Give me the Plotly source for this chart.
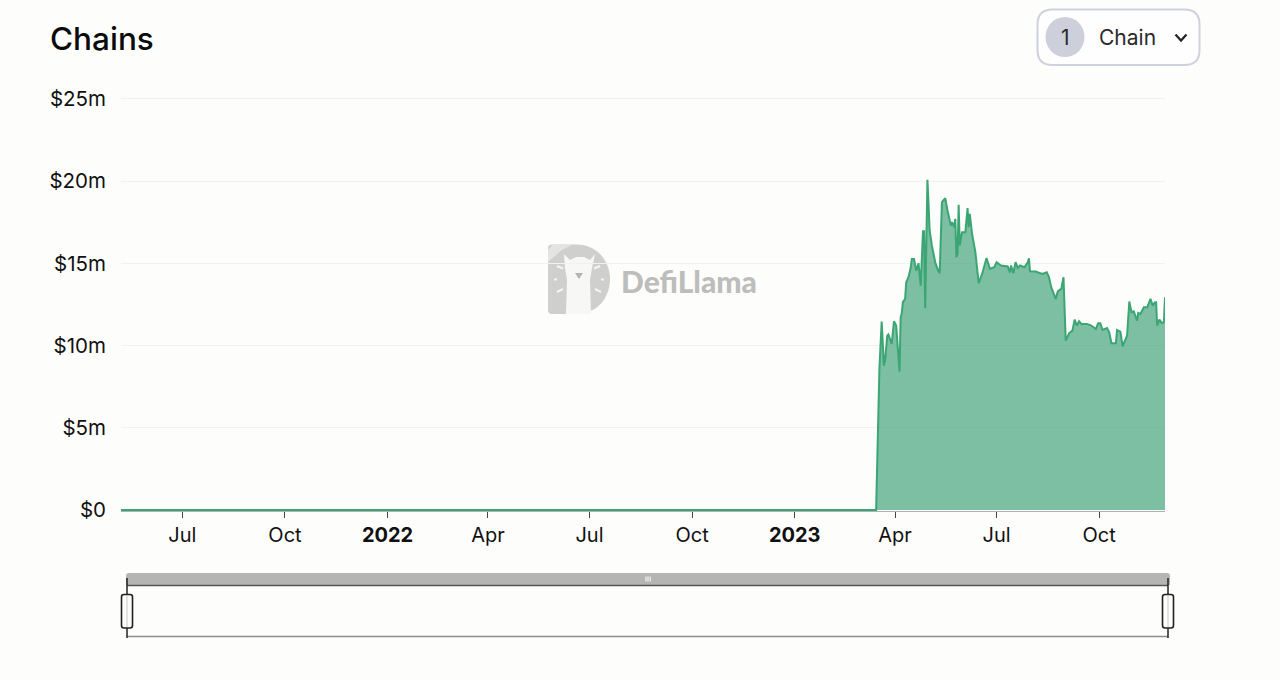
import plotly.graph_objects as go

# ---- data ----
dates = ["2021-05-07","2023-03-15","2023-03-18","2023-03-20","2023-03-22","2023-03-23","2023-03-25","2023-03-26","2023-03-29","2023-03-31",
"2023-04-02","2023-04-03","2023-04-05","2023-04-06","2023-04-07","2023-04-08","2023-04-10","2023-04-11","2023-04-13","2023-04-15",
"2023-04-16","2023-04-18","2023-04-20","2023-04-22","2023-04-24","2023-04-26","2023-04-27","2023-04-28","2023-04-30","2023-05-01",
"2023-05-02","2023-05-04","2023-05-07","2023-05-09","2023-05-11","2023-05-13","2023-05-16","2023-05-18","2023-05-20","2023-05-21",
"2023-05-22","2023-05-24","2023-05-25","2023-05-26","2023-05-27","2023-05-28","2023-05-29","2023-05-30","2023-05-31","2023-06-03",
"2023-06-05","2023-06-06","2023-06-07","2023-06-09","2023-06-12","2023-06-15","2023-06-18","2023-06-22","2023-06-25","2023-06-29",
"2023-07-01","2023-07-05","2023-07-11","2023-07-13","2023-07-14","2023-07-16","2023-07-18","2023-07-20","2023-07-22","2023-07-26",
"2023-07-29","2023-07-30","2023-07-31","2023-08-05","2023-08-11","2023-08-15","2023-08-17","2023-08-19","2023-08-23","2023-08-25",
"2023-08-28","2023-08-30","2023-09-01","2023-09-04","2023-09-07","2023-09-09","2023-09-11","2023-09-13","2023-09-15","2023-09-20",
"2023-09-24","2023-09-28","2023-09-30","2023-10-02","2023-10-04","2023-10-08","2023-10-10","2023-10-12","2023-10-16","2023-10-17",
"2023-10-20","2023-10-22","2023-10-25","2023-10-26","2023-10-28","2023-10-30","2023-11-01","2023-11-04","2023-11-05","2023-11-07",
"2023-11-10","2023-11-13","2023-11-16","2023-11-18","2023-11-20","2023-11-21","2023-11-22","2023-11-24","2023-11-26","2023-11-28","2023-11-29"]
tvl_millions = [0,0,8.68,11.46,8.78,9.09,10.61,10.67,10.10,11.48,
11.22,10.10,8.42,11.72,11.97,12.64,12.84,13.85,14.16,14.73,
15.27,15.27,14.56,15.01,13.65,16.96,16.96,12.27,20.08,18.62,
17.0,16.09,15.07,14.67,14.40,18.72,18.97,18.22,17.51,17.30,
17.51,17.20,17.71,15.38,15.58,18.56,16.09,16.69,16.90,16.90,
18.36,17.20,18.01,16.80,15.68,13.79,14.36,15.33,14.67,14.77,
15.07,14.87,14.81,14.46,14.87,14.40,15.07,14.73,14.87,14.77,
15.07,15.31,14.52,14.50,14.36,14.46,14.16,13.55,12.84,13.31,
13.45,14.16,10.30,10.75,10.91,11.58,11.22,11.48,11.32,11.32,
11.22,11.01,11.36,11.36,10.95,11.07,10.81,10.14,10.14,10.95,
10.85,9.96,10.55,10.61,12.68,12.03,12.09,11.52,11.99,11.93,
12.33,12.33,12.84,12.43,12.64,12.64,11.22,11.58,11.38,11.42,12.94]

x_tick_dates = ["2021-07-01","2021-10-01","2022-01-01","2022-04-01","2022-07-01","2022-10-01","2023-01-01","2023-04-01","2023-07-01","2023-10-01"]
x_tick_labels = ["Jul","Oct","<b>2022</b>","Apr","Jul","Oct","<b>2023</b>","Apr","Jul","Oct"]
y_tick_values = [0,5,10,15,20,25]
y_tick_labels = ["$0","$5m","$10m","$15m","$20m","$25m"]
title_text = "Chains"
selector_count = "1"
selector_label = "Chain"
watermark_text = "DefiLlama"

# ---- page geometry ----
W, H = 1280, 680
L, R, T, B = 121, 1165, 97, 511
FONT = "Inter"
BG = "#fdfdfb"
LINE = "#3ba574"
FILL = "rgba(58,160,116,0.66)"

def px(x): return (x - L) / (R - L)
def py(y): return (B - y) / (B - T)

def poly(points, close=True):
    s = "M " + " L ".join(f"{px(x):.5f},{py(y):.5f}" for x, y in points)
    return s + (" Z" if close else "")

def rrect(x0, y0, x1, y1, r):
    rx, ry = r / (R - L), r / (B - T)
    a, b, c, d = px(x0), px(x1), py(y0), py(y1)
    return (f"M {a+rx:.5f},{c:.5f} L {b-rx:.5f},{c:.5f} Q {b:.5f},{c:.5f} {b:.5f},{c-ry:.5f} "
            f"L {b:.5f},{d+ry:.5f} Q {b:.5f},{d:.5f} {b-rx:.5f},{d:.5f} L {a+rx:.5f},{d:.5f} "
            f"Q {a:.5f},{d:.5f} {a:.5f},{d+ry:.5f} L {a:.5f},{c-ry:.5f} Q {a:.5f},{c:.5f} {a+rx:.5f},{c:.5f} Z")

def path(d, fill="rgba(0,0,0,0)", line=None, w=1, layer="above"):
    return dict(type="path", xref="paper", yref="paper", path=d, fillcolor=fill,
                line=dict(color=line or "rgba(0,0,0,0)", width=w if line else 0), layer=layer)

def seg(x0, y0, x1, y1, color, w=1):
    return dict(type="line", xref="paper", yref="paper", x0=px(x0), y0=py(y0), x1=px(x1), y1=py(y1),
                line=dict(color=color, width=w))

shapes = []
# selector box
shapes.append(path(rrect(1037.5, 9.5, 1199.5, 65, 15), fill="#fefefe", line="#d0d1de", w=2))
shapes.append(dict(type="circle", xref="paper", yref="paper", x0=px(1045.5), x1=px(1084.5), y0=py(17), y1=py(57),
                   fillcolor="#cdcfdb", line=dict(width=0)))
shapes.append(path(poly([(1175.5, 34.5), (1181, 40.5), (1186.5, 34.5)], close=False), line="#222222", w=2.2))

# data zoom slider
shapes.append(path(f"M {px(126):.5f},{py(585):.5f} L {px(126):.5f},{py(576):.5f} Q {px(126):.5f},{py(573):.5f} {px(129):.5f},{py(573):.5f} "
                   f"L {px(1167):.5f},{py(573):.5f} Q {px(1170):.5f},{py(573):.5f} {px(1170):.5f},{py(576):.5f} L {px(1170):.5f},{py(585):.5f} Z",
                   fill="#b5b5b3"))
shapes.append(seg(127, 585.5, 1168, 585.5, "#555555", 1.5))
shapes.append(seg(127, 636.5, 1168, 636.5, "#8f8f8f", 1.5))
for bx in (646, 648, 650.2):
    shapes.append(seg(bx, 576.5, bx, 581.5, "#ffffff", 1))
for cx in (127, 1168):
    shapes.append(seg(cx, 578, cx, 638, "#222222", 1.5))
    shapes.append(path(rrect(cx - 5.5, 594.5, cx + 5.5, 628, 2.5), fill="#fdfdfb", line="#222222", w=1.6))
    shapes.append(seg(cx, 596, cx, 627, "#c9c9c9", 1))

# watermark
D = (f"M {px(552):.5f},{py(244.5):.5f} L {px(576):.5f},{py(244.5):.5f} "
     f"C {px(598):.5f},{py(244.5):.5f} {px(610):.5f},{py(262):.5f} {px(610):.5f},{py(279):.5f} "
     f"C {px(610):.5f},{py(297):.5f} {px(598):.5f},{py(314):.5f} {px(576):.5f},{py(314):.5f} "
     f"L {px(552):.5f},{py(314):.5f} Q {px(548):.5f},{py(314):.5f} {px(548):.5f},{py(310):.5f} "
     f"L {px(548):.5f},{py(248):.5f} Q {px(548):.5f},{py(244.5):.5f} {px(552):.5f},{py(244.5):.5f} Z")
shapes.append(path(D, fill="#cfcfce", layer="below"))
shapes.append(path(poly([(548, 262), (548, 250), (552, 245), (572, 245), (562, 250)]), fill="#e4e4e3", layer="below"))
shapes.append(path(poly([(564, 254), (570, 260), (576, 257), (584, 257), (590, 260), (595, 254), (592, 268),
                         (590, 280), (591, 314), (566, 314), (567, 280), (565, 268)]), fill="#f7f7f6", layer="below"))
shapes.append(path(poly([(575, 273), (583, 273), (579, 279)]), fill="#b4b4b3", layer="below"))
for a, b, c, d in [(557, 266, 563, 268.5), (554, 279.5, 557, 279.5), (557, 292, 563, 289),
                   (594, 268.5, 600, 266), (601, 279.5, 604, 279.5), (595, 289, 601, 292)]:
    shapes.append(seg(a, b, c, d, "#f5f5f4", 2))

annotations = [
    dict(text=title_text, x=px(48), y=py(38), xanchor="left", yanchor="middle", showarrow=False,
         font=dict(family=FONT, size=31.5, color="#0b0b0b", weight=500)),
    dict(text=selector_count, x=px(1065), y=py(37.5), xanchor="center", yanchor="middle", showarrow=False,
         font=dict(family=FONT, size=21, color="#2a2a2a")),
    dict(text=selector_label, x=px(1096.5), y=py(37.5), xanchor="left", yanchor="middle", showarrow=False,
         font=dict(family=FONT, size=21, color="#2a2a2a")),
    dict(text=watermark_text, x=px(619), y=py(281), xanchor="left", yanchor="middle", showarrow=False,
         font=dict(family="Lato", size=30, color="#bdbdbc", weight=900)),
]
for a in annotations:
    a.update(xref="paper", yref="paper")

fig = go.Figure(go.Scatter(x=dates, y=tvl_millions, mode="lines", fill="tozeroy", fillcolor=FILL, cliponaxis=False,
                           line=dict(color=LINE, width=2, shape="linear"), hoverinfo="skip"))
fig.update_layout(
    width=W, height=H, autosize=False, showlegend=False,
    paper_bgcolor=BG, plot_bgcolor=BG,
    margin=dict(l=L, r=W - R, t=T, b=H - B, pad=0),
    font=dict(family=FONT, size=20, color="#111111"),
    xaxis=dict(type="date", range=["2021-05-07", "2023-11-29"], tickmode="array", tickvals=x_tick_dates,
               ticktext=x_tick_labels, showgrid=False, zeroline=False, showline=True, linecolor="#b0b0ae", linewidth=1,
               layer="below traces",
               ticks="outside", ticklen=6, tickcolor="#444444", tickwidth=1,
               ticklabelstandoff=0, tickfont=dict(family=FONT, size=20, color="#111111")),
    yaxis=dict(range=[-0.06, 25.12], tickmode="array", tickvals=y_tick_values, ticktext=y_tick_labels,
               showgrid=True, gridcolor="#f1f1ef", gridwidth=1, zeroline=False, showline=False, ticks="",
               ticklabelstandoff=14, tickfont=dict(family=FONT, size=20.5, color="#111111")),
    shapes=shapes, annotations=annotations,
)
fig.write_html("out.html", config={"displayModeBar": False},
               post_script="document.body.style.margin='0';document.body.style.overflow='hidden';document.body.style.background='#fdfdfb';")
